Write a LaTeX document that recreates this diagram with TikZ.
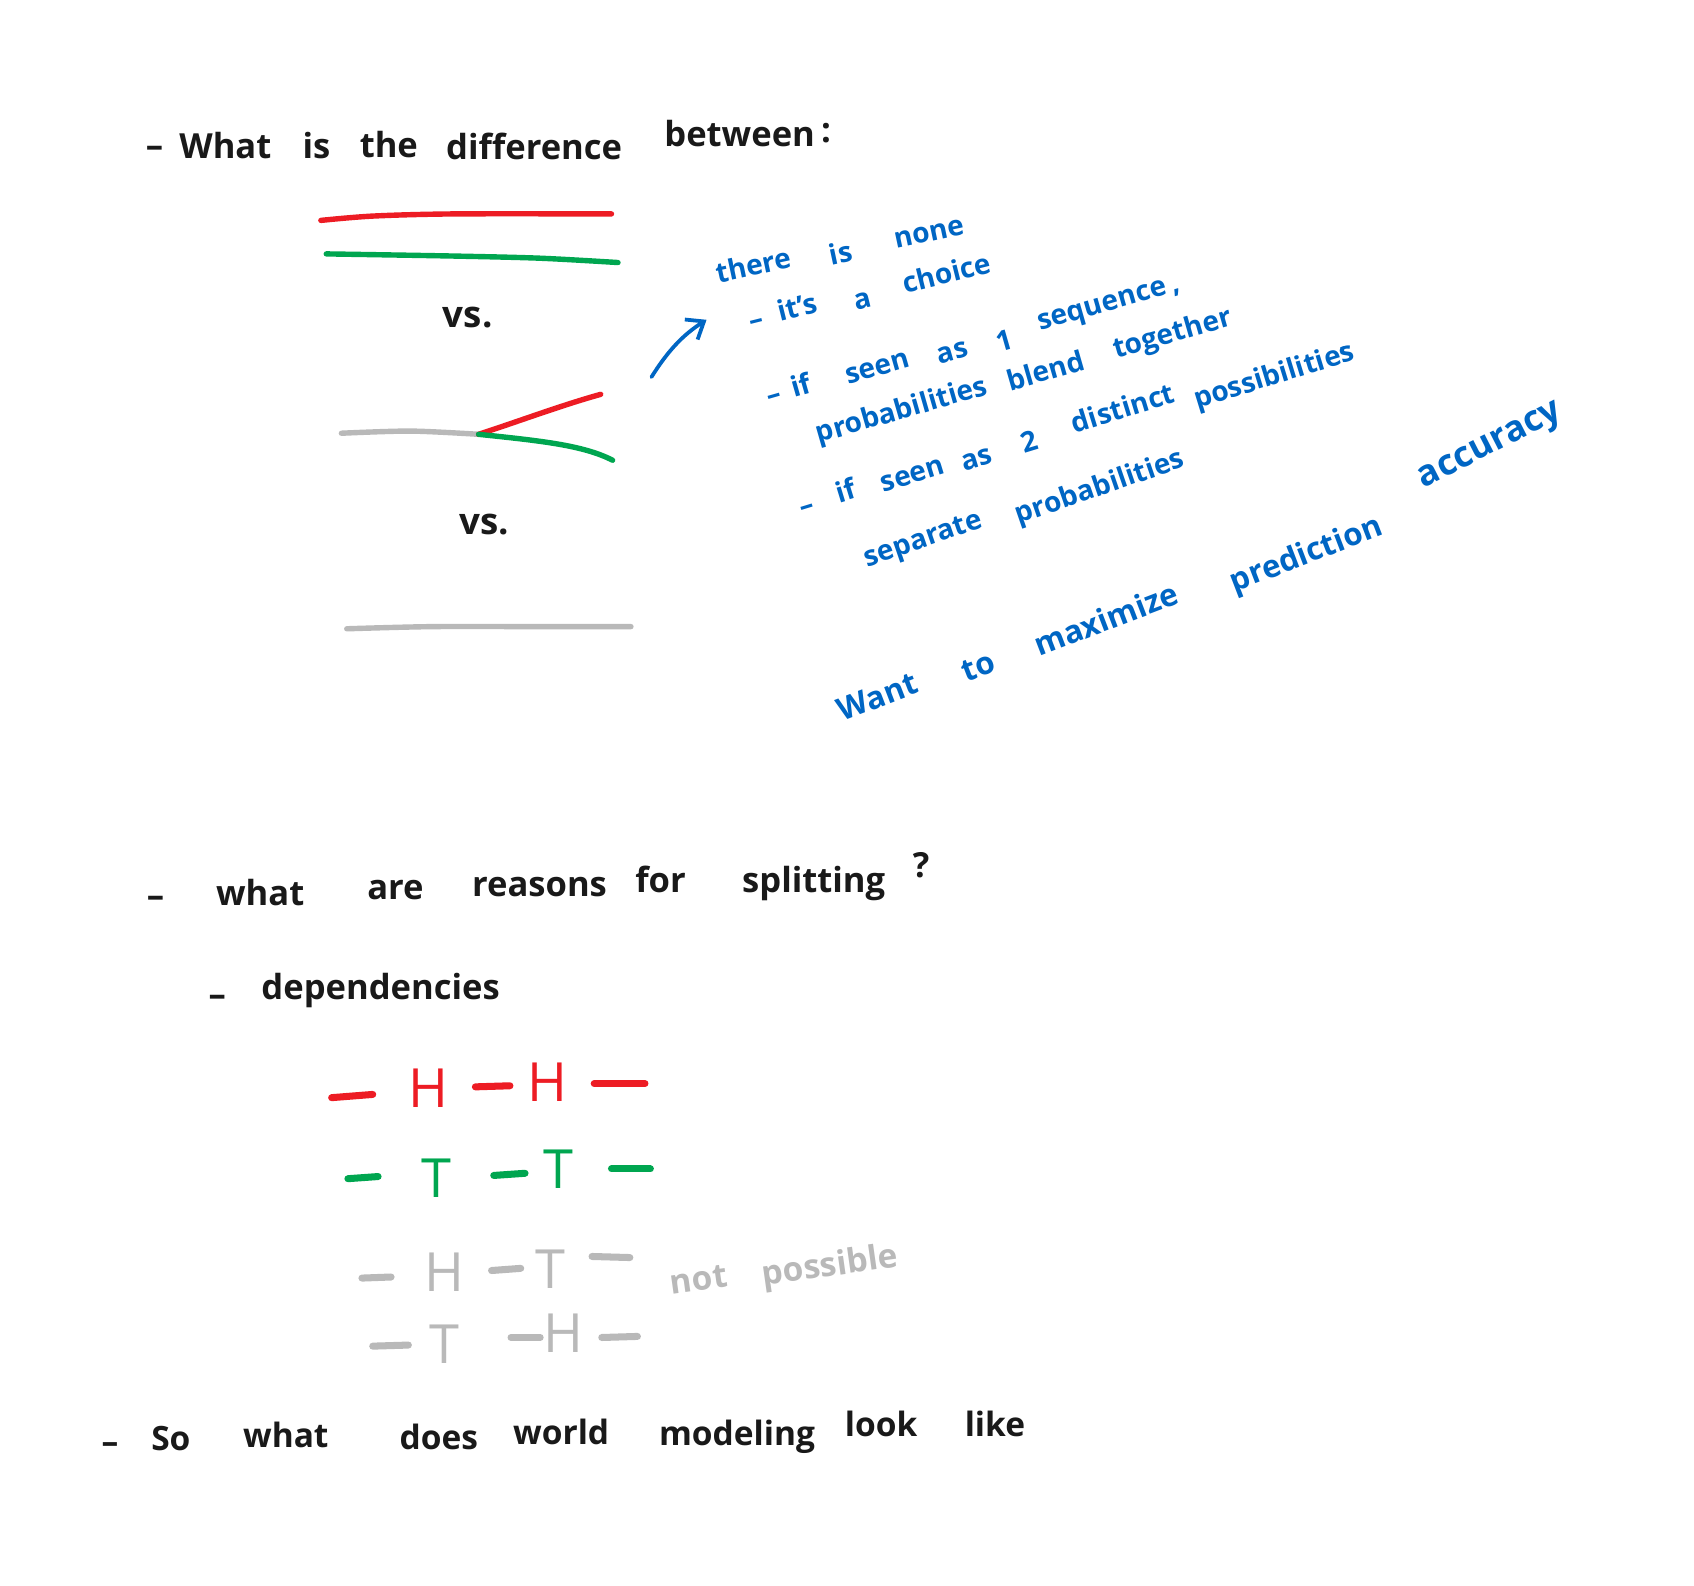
\documentclass[tikz,border=0pt]{standalone}
\usepackage{fontspec}
\setmainfont{Open Sans}
\usetikzlibrary{arrows.meta}
\definecolor{inkred}{RGB}{237,28,36}
\definecolor{inkgreen}{RGB}{0,166,80}
\definecolor{inkgray}{RGB}{185,185,185}
\definecolor{inkblue}{RGB}{0,102,196}
\definecolor{ink}{RGB}{25,25,25}
\begin{document}
\begin{tikzpicture}[x=1pt,y=-1pt,
  word/.style={anchor=base west, inner sep=0pt, outer sep=0pt},
  blk/.style={word, text=ink, font=\fontsize{32}{40}\bfseries},
  blk2/.style={word, text=ink, font=\fontsize{31}{38}\bfseries},
  vsw/.style={word, text=ink, font=\fontsize{34}{40}\bfseries},
  bl/.style={word, text=inkblue, font=\fontsize{26}{30}\bfseries},
  letter/.style={word, font=\fontsize{50}{56}\selectfont},
  gw/.style={word, text=inkgray, font=\fontsize{31}{38}\bfseries},
  stroke/.style={line width=5pt, line cap=round, line join=round},
  dashstroke/.style={line width=6.5pt, line cap=round}
]
\useasboundingbox[fill=white] (0,0) rectangle (1568,1468);

% ---------- title ----------
\node[blk] (t0) at (135,146) {–};
\node[blk] (t1) at (166,147) {What};
\node[blk] (t2) at (280,147) {is};
\node[blk] (t3) at (333,146) {the};
\node[blk] (t4) at (413,148) {difference};
\node[blk] (t5) at (615,136) {between};
\node[blk] (t6) at (760,132) {:};

% ---------- two parallel lines ----------
\draw[stroke, inkred] plot[smooth] coordinates {(297,204) (345,200) (420,198) (566,198)};
\draw[stroke, inkgreen] plot[smooth] coordinates {(302,235) (420,237) (500,239) (572,243)};
\node[vsw] (vs1) at (410,303) {vs.};

% ---------- split ----------
\coordinate (gstart) at (316,401);
\coordinate (split) at (443,402);
\coordinate (rend) at (556,365);
\coordinate (gend) at (567,426);
\draw[stroke, inkgray] plot[smooth] coordinates {(gstart) (380,399) (split)};
\draw[stroke, inkred] (split) .. controls (480,390) and (520,375) .. (rend);
\draw[stroke, inkgreen] (split) .. controls (500,408) and (540,412) .. (gend);
\node[vsw] (vs2) at (425,495) {vs.};

% ---------- single gray line ----------
\draw[stroke, inkgray] plot[smooth] coordinates {(321,582) (400,580) (500,580) (584,580)};

% ---------- blue arrow ----------
\coordinate (arS) at (603,349);
\coordinate (arE) at (654,296);
\draw[inkblue, line width=3.5pt, line cap=round,
  -{Straight Barb[length=14pt, width=22pt, line width=3.5pt]}]
  (arS) .. controls (618,325) and (632,310) .. (arE);

% ---------- blue notes ----------
\begin{scope}[bl/.append style={rotate=12}]
\node[bl] (b1) at (665,262) {there};
\node[bl] (b2) at (770,246) {is};
\node[bl] (b3) at (830,230) {none};
\end{scope}
\begin{scope}[bl/.append style={rotate=14}]
\node[bl] (c0) at (696,306) {–};
\node[bl] (c1) at (722,298) {it's};
\node[bl] (c2) at (793,287) {a};
\node[bl] (c3) at (838,272) {choice};
\end{scope}
\begin{scope}[bl/.append style={rotate=16}]
\node[bl] (d0) at (712,375) {–};
\node[bl] (d1) at (735,368) {if};
\node[bl] (d2) at (785,356) {seen};
\node[bl] (d3) at (870,337) {as};
\node[bl] (d4) at (925,326) {1};
\node[bl] (d5) at (963,306) {sequence};
\node[bl] (d6) at (1086,272) {,};
\node[bl] (e1) at (758,410) {probabilities};
\node[bl] (e2) at (935,362) {blend};
\node[bl] (e3) at (1033,332) {together};
\end{scope}
\begin{scope}[bl/.append style={rotate=17}]
\node[bl] (f0) at (743,478) {–};
\node[bl] (f1) at (777,466) {if};
\node[bl] (f2) at (818,456) {seen};
\node[bl] (f3) at (893,436) {as};
\node[bl] (f4) at (948,420) {2};
\node[bl] (f5) at (995,401) {distinct};
\node[bl] (f6) at (1108,378) {possibilities};
\node[bl] (f7) at (1240,325) {,};
\end{scope}
\begin{scope}[bl/.append style={rotate=19}]
\node[bl] (g1) at (803,525) {separate};
\node[bl] (g2) at (943,485) {probabilities};
\end{scope}
\begin{scope}[bl/.append style={rotate=21}]
\node[bl, font=\fontsize{29}{32}\bfseries] (h1) at (780,668) {Want};
\node[bl, font=\fontsize{29}{32}\bfseries] (h2) at (895,632) {to};
\node[bl, font=\fontsize{29}{32}\bfseries] (h3) at (962,608) {maximize};
\node[bl, font=\fontsize{29}{32}\bfseries] (h4) at (1143,548) {prediction};
\node[bl, rotate=6, font=\fontsize{33}{36}\bfseries] (h5) at (1318,452) {accuracy};
\end{scope}

% ---------- reasons ----------
\node[blk] (r0) at (136,840) {–};
\node[blk] (r1) at (200,838) {what};
\node[blk] (r2) at (340,833) {are};
\node[blk] (r3) at (437,830) {reasons};
\node[blk] (r4) at (588,826) {for};
\node[blk] (r5) at (687,826) {splitting};
\node[blk] (r6) at (845,812) {?};
\node[blk] (s0) at (193,932) {–};
\node[blk] (s1) at (242,925) {dependencies};

% ---------- sequences ----------
\node[letter, text=inkred] (H1) at (378,1025) {H};
\node[letter, text=inkred] (H2) at (488,1020) {H};
\draw[dashstroke, inkred] (307,1016) -- (345,1013);
\draw[dashstroke, inkred] (440,1006) -- (472,1005);
\draw[dashstroke, inkred] (550,1003) -- (597,1003);

\node[letter, text=inkgreen] (T1) at (390,1108) {T};
\node[letter, text=inkgreen] (T2) at (503,1100) {T};
\draw[dashstroke, inkgreen] (322,1091) -- (350,1089);
\draw[dashstroke, inkgreen] (457,1088) -- (486,1086);
\draw[dashstroke, inkgreen] (566,1082) -- (602,1082);

\node[letter, text=inkgray] (G1) at (393,1195) {H};
\node[letter, text=inkgray] (G2) at (496,1193) {T};
\draw[dashstroke, inkgray] (335,1183) -- (362,1182);
\draw[dashstroke, inkgray] (455,1176) -- (482,1174);
\draw[dashstroke, inkgray] (548,1163) -- (583,1164);

\node[letter, text=inkgray] (K1) at (398,1262) {T};
\node[letter, text=inkgray] (K2) at (503,1252) {H};
\draw[dashstroke, inkgray] (345,1246) -- (378,1245);
\draw[dashstroke, inkgray] (473,1238) -- (500,1238);
\draw[dashstroke, inkgray] (557,1238) -- (590,1237);

\node[gw, rotate=8] (np1) at (622,1198) {not};
\node[gw, rotate=8] (np2) at (707,1190) {possible};

% ---------- last line ----------
\node[blk2] (z0) at (94,1345) {–};
\node[blk2] (z1) at (140,1343) {So};
\node[blk2] (z2) at (225,1340) {what};
\node[blk2] (z3) at (370,1342) {does};
\node[blk2] (z4) at (475,1337) {world};
\node[blk2] (z5) at (610,1338) {modeling};
\node[blk2] (z6) at (782,1330) {look};
\node[blk2] (z7) at (893,1330) {like};
\end{tikzpicture}
\end{document}
